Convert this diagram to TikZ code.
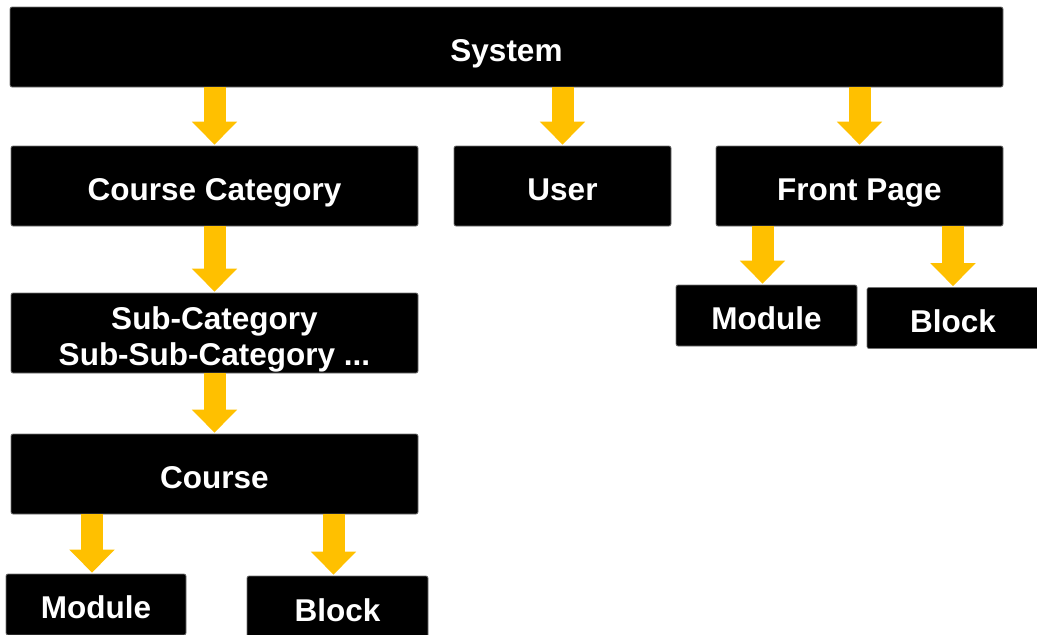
\documentclass[tikz,border=0pt]{standalone}
\usepackage{fontspec}
\setmainfont{Liberation Sans}
\usepackage{xcolor}
\usetikzlibrary{arrows.meta,positioning}
\definecolor{arrowY}{HTML}{FFC000}
\tikzset{
  box/.style={fill=black,draw=black!55,line width=0.7pt,rounded corners=2pt,
    text=white,inner sep=0pt,align=center,text height=28pt,text depth=0pt,
    font=\bfseries\fontsize{31.5}{36}\selectfont},
  down/.style={draw=arrowY,line width=22pt,shorten >=1pt,
    -{Triangle[width=44pt,length=23pt]}}
}
\begin{document}
\begin{tikzpicture}[x=1pt,y=-1pt]
\useasboundingbox (0,0) rectangle (1037,635);
\clip (0,0) rectangle (1037,635);
% top level
\node[box,minimum width=993pt,minimum height=80pt] (sys) at (506.5,47) {System};
\node[box,minimum width=407pt,minimum height=80pt] (cat) at (214.5,186) {Course Category};
\node[box,minimum width=217pt,minimum height=80pt] (user) at (562.5,186) {User};
\node[box,minimum width=287pt,minimum height=80pt] (front) at (859.5,186) {Front Page};
% course branch
\node[box,minimum width=407pt,minimum height=80pt,text height=64pt] (sub) at (214.5,333) {Sub-Category\\Sub-Sub-Category ...};
\node[box,minimum width=407pt,minimum height=80pt] (course) at (214.5,474) {Course};
\node[box,minimum width=180pt,minimum height=61pt] (cmod) at (96,604.5) {Module};
\node[box,minimum width=181pt,minimum height=63pt] (cblk) at (337.5,607.5) {Block};
% front page branch
\node[box,minimum width=181pt,minimum height=61pt] (fmod) at (766.5,315.5) {Module};
\node[box,minimum width=172pt,minimum height=61pt] (fblk) at (953,318) {Block};
% arrows
\draw[down] (sys.south -| cat.north) -- (cat.north);
\draw[down] (sys.south -| user.north) -- (user.north);
\draw[down] (sys.south -| front.north) -- (front.north);
\draw[down] (cat.south) -- (sub.north);
\draw[down] (sub.south) -- (course.north);
\draw[down] (course.south -| cmod.north) ++(-4,0) -- ([xshift=-4pt]cmod.north);
\draw[down] (course.south -| cblk.north) ++(-4,0) -- ([xshift=-4pt]cblk.north);
\draw[down] (front.south -| fmod.north) ++(-4,0) -- ([xshift=-4pt]fmod.north);
\draw[down] (front.south -| fblk.north) -- (fblk.north);
\end{tikzpicture}
\end{document}
